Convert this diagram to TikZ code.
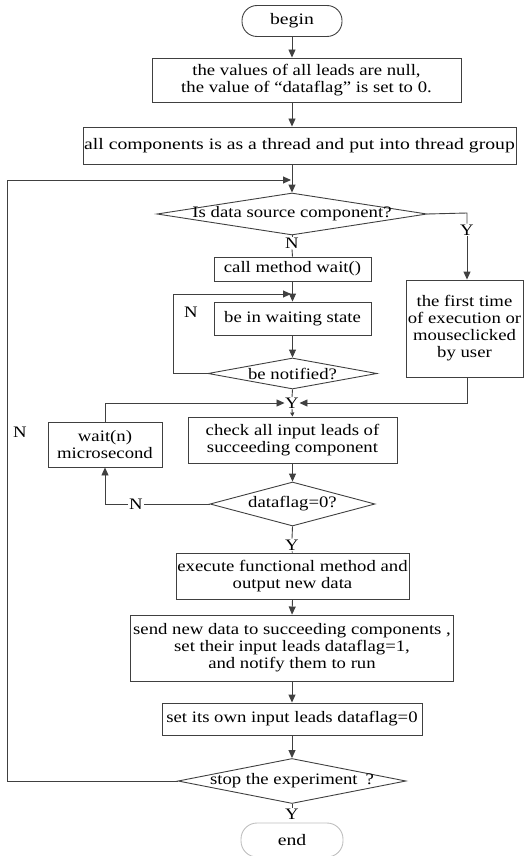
\documentclass[tikz,border=0pt]{standalone}
\usepackage{fontspec}
\setmainfont[FakeStretch=1.17]{Liberation Serif}
\newfontfamily\widefont[FakeStretch=1.23]{Liberation Serif}
\usetikzlibrary{shapes.geometric,arrows.meta}
\begin{document}
\begin{tikzpicture}[x=1pt,y=-1pt,
  font=\fontsize{16}{17}\selectfont,
  line/.style={draw=black!75, line width=0.9pt},
  arr/.style={line, -{Triangle[length=8pt,width=7pt]}},
  smallarr/.style={line, -{Triangle[length=4pt,width=4pt]}},
  proc/.style={draw=black!75, line width=0.9pt, rectangle, align=center, inner sep=0pt},
  dec/.style={draw=black!75, line width=0.9pt, diamond, inner sep=0pt},
  term/.style={draw=black!75, line width=0.9pt, rectangle, rounded corners=15pt, align=center, inner sep=0pt,
    font=\widefont\fontsize{16}{17}\selectfont},
  lab/.style={inner sep=1pt, fill=white}
]
\useasboundingbox (0,0) rectangle (528,856);

% main axis of the flow
\coordinate (ax) at (292,0);

% process boxes and terminals
\node[term, minimum width=100pt, minimum height=31pt] (begin) at (292,21) {begin};
\node[proc, minimum width=309pt, minimum height=44pt] (init) at (306.5,80)
  {the values of all leads are null,\\ the value of “dataflag” is set to 0.};
\node[proc, minimum width=433pt, minimum height=37pt, font=\widefont\fontsize{16}{17}\selectfont] (thr) at (299.5,145.5)
  {all components is as a thread and put into thread group};
\node[dec, minimum width=270pt, minimum height=42pt] (d1) at (292,214) {};
\node (d1t) at (d1) {Is data source component?};
\node[proc, minimum width=157pt, minimum height=24pt] (wait) at (292.5,269) {call method wait()};
\node[proc, minimum width=157pt, minimum height=33pt] (waiting) at (292.5,318.5) {be in waiting state};
\node[dec, minimum width=169pt, minimum height=31pt] (d2) at (292.5,373.5) {};
\node (d2t) at (d2) {be notified?};
\node[proc, minimum width=117pt, minimum height=97pt] (first) at (464.5,328.5)
  {the first time\\ of execution or\\ mouseclicked\\ by user};
\node[proc, minimum width=114pt, minimum height=45pt] (waitn) at (105,444.5) {wait(n)\\ microsecond};
\node[proc, minimum width=209pt, minimum height=46pt] (check) at (292.5,440)
  {check all input leads of\\ succeeding component};
\node[dec, minimum width=165pt, minimum height=44pt] (d3) at (292.5,504) {};
\node (d3t) at (d3) {dataflag=0?};
\node[proc, minimum width=233pt, minimum height=46pt] (exec) at (292.5,576)
  {execute functional method and\\ output new data};
\node[proc, minimum width=323pt, minimum height=66pt] (send) at (292,648)
  {send new data to succeeding components ,\\ set their input leads dataflag=1,\\ and notify them to run};
\node[proc, minimum width=260pt, minimum height=32pt] (own) at (292,719)
  {set its own input leads dataflag=0};
\node[dec, minimum width=228pt, minimum height=45pt] (d4) at (292,781) {};
\node (d4t) at (d4) {stop the experiment\enspace?};
\node[term, draw=black!25, minimum width=102pt, minimum height=34pt, rounded corners=16pt] (end) at (292,840) {end};

% branch labels
\node[lab] (n1) at (292,243) {N};
\node[lab] (y1) at (467,230) {Y};
\node (n2) at (191,312) {N};
\node[lab, inner sep=0.5pt] (y2) at (292,403) {Y};
\node[lab] (n3) at (136,504) {N};
\node[lab] (y3) at (292,545) {Y};
\node[lab] (y4) at (292,814) {Y};
\node (n4) at (20,432) {N};

% bend points
\coordinate (rc) at (467,213);
\coordinate (lx) at (7,180);
\coordinate (loopend) at (291,180);
\coordinate (nl) at (173,294);
\coordinate (nle) at (291,294);

% straight flow
\draw[arr] (ax |- begin.south) -- (ax |- init.north);
\draw[arr] (ax |- init.south) -- (ax |- thr.north);
\draw[arr] (ax |- thr.south) -- (d1.north);
\draw[line] (d1.south) -- (n1.north);
\draw[line] (n1.south) -- (wait.north);
\draw[arr] (wait.south) -- (waiting.north);
\draw[arr] (waiting.south) -- (d2.north);
\draw[line] (d2.south) -- (y2.north);
\draw[smallarr] (y2.south) -- (check.north);
\draw[arr] (check.south) -- (d3.north);
\draw[line] (d3.south) -- (y3.north);
\draw[line] (y3.south) -- (exec.north);
\draw[arr] (exec.south) -- (send.north);
\draw[arr] (send.south) -- (own.north);
\draw[arr] (own.south) -- (d4.north);
\draw[line] (d4.south) -- (y4.north);

% data source branch
\draw[line] (d1.east) -- (rc) -- (y1.north);
\draw[arr] (y1.south) -- (y1 |- first.north);
\draw[arr] (y1 |- first.south) |- (y2.east);

% waiting loop
\draw[arr] (d2.west) -| (nl) -- (nle);

% dataflag loop
\draw[line] (d3.west) -- (n3.east);
\draw[arr] (n3.west) -| (waitn.south);
\draw[arr] (waitn.north) |- (y2.west);

% outer loop
\draw[arr] (d4.west) -| (lx) -- (loopend);
\end{tikzpicture}
\end{document}
